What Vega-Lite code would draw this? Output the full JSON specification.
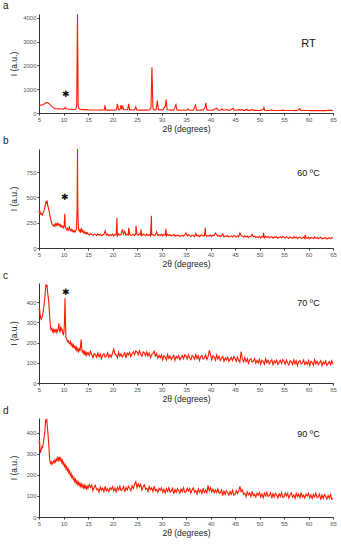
{
"$schema": "https://vega.github.io/schema/vega-lite/v6.json",
"padding": {"left": 3, "top": 1, "right": 4, "bottom": 4},
"spacing": 2,
"config": {
  "font": "Liberation Sans",
  "view": {"stroke": null},
  "axis": {"grid": false, "domainColor": "#333", "tickColor": "#333", "labelColor": "#555", "labelFontSize": 6, "titleFontSize": 8.5, "titleFontWeight": "normal", "titleColor": "#222", "tickSize": 2, "labelPadding": 1, "titlePadding": 2, "labelOverlap": false, "labelFlush": false, "labelBound": false, "format": "d", "tickCount": 20},
  "title": {"fontSize": 10, "fontWeight": "normal", "anchor": "start", "color": "#222", "offset": 1, "frame": "group", "dx": -36}
},
"datasets": {
"a": [{"x":5,"y":340},{"x":5.3,"y":330},{"x":5.6,"y":335},{"x":5.9,"y":360},{"x":6.2,"y":400},{"x":6.5,"y":440},{"x":6.8,"y":430},{"x":7.1,"y":380},{"x":7.4,"y":320},{"x":7.7,"y":260},{"x":8,"y":210},{"x":8.3,"y":185},{"x":8.6,"y":180},{"x":9,"y":175},{"x":9.5,"y":170},{"x":10,"y":165},{"x":10.2,"y":190},{"x":10.35,"y":240},{"x":10.5,"y":175},{"x":11,"y":160},{"x":11.5,"y":155},{"x":12,"y":150},{"x":12.5,"y":160},{"x":12.7,"y":300},{"x":12.85,"y":4150},{"x":13,"y":300},{"x":13.2,"y":170},{"x":13.6,"y":150},{"x":14,"y":140},{"x":14.5,"y":140},{"x":15,"y":130},{"x":15.5,"y":128},{"x":16,"y":125},{"x":16.5,"y":127},{"x":17,"y":124},{"x":17.5,"y":122},{"x":18,"y":125},{"x":18.3,"y":130},{"x":18.45,"y":320},{"x":18.6,"y":130},{"x":19,"y":122},{"x":19.5,"y":120},{"x":20,"y":122},{"x":20.5,"y":125},{"x":20.8,"y":135},{"x":21,"y":380},{"x":21.2,"y":140},{"x":21.5,"y":130},{"x":21.75,"y":330},{"x":21.9,"y":150},{"x":22.05,"y":310},{"x":22.25,"y":140},{"x":22.6,"y":135},{"x":23.1,"y":150},{"x":23.3,"y":380},{"x":23.5,"y":140},{"x":24,"y":125},{"x":24.5,"y":130},{"x":24.75,"y":260},{"x":24.95,"y":130},{"x":25.5,"y":122},{"x":26,"y":120},{"x":26.5,"y":122},{"x":27,"y":120},{"x":27.5,"y":125},{"x":27.85,"y":200},{"x":28.05,"y":1920},{"x":28.25,"y":200},{"x":28.5,"y":125},{"x":28.9,"y":140},{"x":29.15,"y":520},{"x":29.35,"y":140},{"x":29.8,"y":130},{"x":30.3,"y":140},{"x":30.8,"y":300},{"x":30.95,"y":560},{"x":31.15,"y":140},{"x":31.6,"y":125},{"x":32,"y":120},{"x":32.5,"y":125},{"x":32.95,"y":350},{"x":33.15,"y":125},{"x":33.6,"y":120},{"x":34,"y":118},{"x":34.5,"y":120},{"x":35,"y":118},{"x":35.4,"y":170},{"x":35.6,"y":118},{"x":36,"y":118},{"x":36.5,"y":120},{"x":36.95,"y":330},{"x":37.15,"y":120},{"x":37.6,"y":118},{"x":38,"y":120},{"x":38.5,"y":122},{"x":38.9,"y":250},{"x":39.05,"y":430},{"x":39.25,"y":130},{"x":39.6,"y":120},{"x":40,"y":118},{"x":40.5,"y":120},{"x":41,"y":180},{"x":41.25,"y":200},{"x":41.5,"y":120},{"x":42,"y":118},{"x":42.4,"y":165},{"x":42.6,"y":118},{"x":43,"y":125},{"x":43.3,"y":150},{"x":43.5,"y":115},{"x":44,"y":115},{"x":44.6,"y":200},{"x":44.8,"y":120},{"x":45.3,"y":115},{"x":45.8,"y":140},{"x":46,"y":115},{"x":46.4,"y":155},{"x":46.6,"y":112},{"x":47,"y":112},{"x":47.4,"y":160},{"x":47.6,"y":112},{"x":48,"y":110},{"x":48.5,"y":150},{"x":48.7,"y":110},{"x":49.2,"y":112},{"x":49.7,"y":108},{"x":50.2,"y":110},{"x":50.75,"y":150},{"x":50.9,"y":230},{"x":51.05,"y":115},{"x":51.5,"y":108},{"x":52,"y":106},{"x":52.5,"y":130},{"x":52.7,"y":106},{"x":53.2,"y":108},{"x":53.7,"y":104},{"x":54.2,"y":106},{"x":54.9,"y":120},{"x":55.1,"y":104},{"x":55.6,"y":104},{"x":56,"y":106},{"x":56.5,"y":103},{"x":57,"y":105},{"x":57.5,"y":102},{"x":58,"y":140},{"x":58.2,"y":180},{"x":58.4,"y":110},{"x":59,"y":104},{"x":59.5,"y":102},{"x":60,"y":104},{"x":60.5,"y":101},{"x":61,"y":103},{"x":61.5,"y":100},{"x":62,"y":102},{"x":62.5,"y":100},{"x":63,"y":99},{"x":63.5,"y":101},{"x":64,"y":115},{"x":64.2,"y":100},{"x":64.6,"y":120},{"x":64.8,"y":100},{"x":65,"y":95}],
"b": [{"x":5,"y":370},{"x":5.1,"y":350},{"x":5.2,"y":360},{"x":5.35,"y":335},{"x":5.5,"y":340},{"x":5.65,"y":325},{"x":5.8,"y":345},{"x":5.95,"y":360},{"x":6.1,"y":385},{"x":6.25,"y":420},{"x":6.35,"y":440},{"x":6.45,"y":465},{"x":6.55,"y":450},{"x":6.65,"y":470},{"x":6.75,"y":430},{"x":6.9,"y":400},{"x":7.05,"y":370},{"x":7.2,"y":330},{"x":7.35,"y":290},{"x":7.5,"y":265},{"x":7.65,"y":240},{"x":7.8,"y":225},{"x":7.95,"y":218},{"x":8.1,"y":230},{"x":8.25,"y":215},{"x":8.4,"y":240},{"x":8.55,"y":225},{"x":8.7,"y":245},{"x":8.85,"y":228},{"x":9,"y":240},{"x":9.15,"y":220},{"x":9.3,"y":232},{"x":9.45,"y":210},{"x":9.6,"y":222},{"x":9.75,"y":205},{"x":9.9,"y":215},{"x":10.05,"y":200},{"x":10.15,"y":220},{"x":10.25,"y":340},{"x":10.35,"y":230},{"x":10.5,"y":190},{"x":10.65,"y":180},{"x":10.8,"y":195},{"x":10.95,"y":175},{"x":11.1,"y":190},{"x":11.2,"y":215},{"x":11.3,"y":180},{"x":11.45,"y":172},{"x":11.6,"y":185},{"x":11.75,"y":165},{"x":11.9,"y":178},{"x":12.05,"y":160},{"x":12.2,"y":172},{"x":12.35,"y":158},{"x":12.5,"y":170},{"x":12.65,"y":185},{"x":12.78,"y":400},{"x":12.85,"y":980},{"x":12.92,"y":400},{"x":13.05,"y":190},{"x":13.2,"y":165},{"x":13.35,"y":180},{"x":13.5,"y":160},{"x":13.65,"y":195},{"x":13.8,"y":162},{"x":13.95,"y":175},{"x":14.1,"y":150},{"x":14.25,"y":160},{"x":14.4,"y":145},{"x":14.55,"y":155},{"x":14.7,"y":140},{"x":14.85,"y":152},
{"x":15,"y":139},{"x":15.25,"y":129},{"x":15.5,"y":143},{"x":15.75,"y":132},{"x":16,"y":123},{"x":16.25,"y":138},{"x":16.5,"y":134},{"x":16.75,"y":124},{"x":17,"y":140},{"x":17.25,"y":126},{"x":17.5,"y":136},{"x":17.75,"y":120},{"x":18,"y":132},{"x":18.25,"y":135},{"x":18.5,"y":170},{"x":18.75,"y":127},{"x":19,"y":137},{"x":19.25,"y":121},{"x":19.5,"y":131},{"x":19.75,"y":122},{"x":20,"y":136},{"x":20.25,"y":118},{"x":20.5,"y":133},{"x":20.75,"y":129},{"x":20.9,"y":300},{"x":21,"y":122},{"x":21.25,"y":140},{"x":21.5,"y":126},{"x":21.75,"y":136},{"x":22,"y":185},{"x":22.25,"y":136},{"x":22.5,"y":165},{"x":22.75,"y":126},{"x":23,"y":137},{"x":23.25,"y":131},{"x":23.3,"y":200},{"x":23.5,"y":140},{"x":23.75,"y":125},{"x":24,"y":129},{"x":24.25,"y":136},{"x":24.5,"y":125},{"x":24.75,"y":139},{"x":24.8,"y":220},{"x":25,"y":136},{"x":25.25,"y":126},{"x":25.5,"y":140},{"x":25.75,"y":129},{"x":25.8,"y":185},{"x":26,"y":121},{"x":26.25,"y":136},{"x":26.5,"y":132},{"x":26.75,"y":122},{"x":27,"y":138},{"x":27.25,"y":124},{"x":27.5,"y":134},{"x":27.75,"y":118},{"x":27.95,"y":320},{"x":28,"y":132},{"x":28.25,"y":135},{"x":28.5,"y":123},{"x":28.75,"y":127},{"x":29,"y":160},{"x":29.25,"y":123},{"x":29.5,"y":133},{"x":29.75,"y":124},{"x":30,"y":138},{"x":30.25,"y":120},{"x":30.5,"y":135},{"x":30.75,"y":131},{"x":30.9,"y":190},{"x":31,"y":120},{"x":31.25,"y":138},{"x":31.5,"y":124},{"x":31.75,"y":134},{"x":32,"y":119},{"x":32.25,"y":126},{"x":32.5,"y":133},{"x":32.75,"y":116},{"x":33,"y":126},{"x":33.25,"y":120},{"x":33.5,"y":129},{"x":33.75,"y":114},{"x":34,"y":121},{"x":34.25,"y":128},{"x":34.5,"y":117},{"x":34.75,"y":131},{"x":35,"y":150},{"x":35.25,"y":119},{"x":35.5,"y":133},{"x":35.75,"y":122},{"x":36,"y":113},{"x":36.25,"y":128},{"x":36.5,"y":124},{"x":36.75,"y":114},{"x":37,"y":145},{"x":37.25,"y":118},{"x":37.5,"y":128},{"x":37.75,"y":112},{"x":38,"y":126},{"x":38.25,"y":129},{"x":38.5,"y":117},{"x":38.75,"y":121},{"x":38.95,"y":200},{"x":39,"y":131},{"x":39.25,"y":115},{"x":39.5,"y":125},{"x":39.75,"y":116},{"x":40,"y":130},{"x":40.25,"y":112},{"x":40.5,"y":127},{"x":40.75,"y":123},{"x":41,"y":148},{"x":41.25,"y":130},{"x":41.5,"y":116},{"x":41.75,"y":126},{"x":42,"y":112},{"x":42.25,"y":119},{"x":42.5,"y":140},{"x":42.75,"y":109},{"x":43,"y":120},{"x":43.25,"y":114},{"x":43.5,"y":123},{"x":43.75,"y":108},{"x":44,"y":113},{"x":44.25,"y":120},{"x":44.5,"y":109},{"x":44.75,"y":123},{"x":45,"y":118},{"x":45.25,"y":108},{"x":45.5,"y":122},{"x":45.75,"y":111},{"x":46,"y":148},{"x":46.25,"y":122},{"x":46.5,"y":118},{"x":46.75,"y":108},{"x":47,"y":123},{"x":47.25,"y":109},{"x":47.5,"y":119},{"x":47.75,"y":103},{"x":48,"y":114},{"x":48.25,"y":117},{"x":48.5,"y":135},{"x":48.75,"y":109},{"x":49,"y":119},{"x":49.25,"y":103},{"x":49.5,"y":113},{"x":49.75,"y":104},{"x":50,"y":116},{"x":50.25,"y":98},{"x":50.5,"y":113},{"x":50.75,"y":109},{"x":50.8,"y":150},{"x":51,"y":100},{"x":51.25,"y":118},{"x":51.5,"y":104},{"x":51.75,"y":114},{"x":52,"y":100},{"x":52.25,"y":107},{"x":52.5,"y":114},{"x":52.75,"y":97},{"x":53,"y":109},{"x":53.25,"y":103},{"x":53.5,"y":112},{"x":53.75,"y":97},{"x":54,"y":104},{"x":54.25,"y":111},{"x":54.5,"y":100},{"x":54.75,"y":114},{"x":55,"y":108},{"x":55.25,"y":98},{"x":55.5,"y":112},{"x":55.75,"y":101},{"x":56,"y":94},{"x":56.25,"y":109},{"x":56.5,"y":105},{"x":56.75,"y":95},{"x":57,"y":112},{"x":57.25,"y":98},{"x":57.5,"y":108},{"x":57.75,"y":92},{"x":58,"y":105},{"x":58.25,"y":108},{"x":58.5,"y":96},{"x":58.75,"y":100},{"x":59,"y":109},{"x":59.25,"y":93},{"x":59.3,"y":130},{"x":59.5,"y":103},{"x":59.75,"y":94},{"x":60,"y":108},{"x":60.25,"y":90},{"x":60.5,"y":105},{"x":60.75,"y":101},{"x":61,"y":91},{"x":61.25,"y":109},{"x":61.5,"y":95},{"x":61.75,"y":105},{"x":62,"y":92},{"x":62.25,"y":99},{"x":62.5,"y":106},{"x":62.75,"y":89},{"x":63,"y":101},{"x":63.25,"y":95},{"x":63.5,"y":104},{"x":63.75,"y":89},{"x":64,"y":95},{"x":64.25,"y":102},{"x":64.5,"y":91},{"x":64.75,"y":105},{"x":65,"y":95}],
"c": [{"x":5,"y":360},{"x":5.1,"y":370},{"x":5.2,"y":345},{"x":5.35,"y":320},{"x":5.5,"y":315},{"x":5.65,"y":330},{"x":5.8,"y":345},{"x":5.95,"y":370},{"x":6.1,"y":400},{"x":6.25,"y":440},{"x":6.35,"y":470},{"x":6.45,"y":490},{"x":6.55,"y":475},{"x":6.65,"y":485},{"x":6.75,"y":450},{"x":6.9,"y":420},{"x":7,"y":400},{"x":7.1,"y":360},{"x":7.2,"y":320},{"x":7.3,"y":290},{"x":7.45,"y":265},{"x":7.6,"y":270},{"x":7.75,"y":255},{"x":7.9,"y":265},{"x":8.05,"y":250},{"x":8.2,"y":262},{"x":8.35,"y":255},{"x":8.5,"y":268},{"x":8.65,"y":250},{"x":8.8,"y":260},{"x":8.95,"y":275},{"x":9.05,"y":295},{"x":9.15,"y":265},{"x":9.3,"y":250},{"x":9.45,"y":280},{"x":9.55,"y":260},{"x":9.7,"y":270},{"x":9.85,"y":245},{"x":10,"y":240},{"x":10.1,"y":255},{"x":10.2,"y":300},{"x":10.3,"y":420},{"x":10.4,"y":300},{"x":10.5,"y":225},{"x":10.65,"y":220},{"x":10.8,"y":205},{"x":10.95,"y":210},{"x":11.1,"y":200},{"x":11.25,"y":195},{"x":11.4,"y":205},{"x":11.55,"y":188},{"x":11.7,"y":195},{"x":11.85,"y":180},{"x":12,"y":190},{"x":12.15,"y":175},{"x":12.3,"y":182},{"x":12.45,"y":168},{"x":12.6,"y":178},{"x":12.75,"y":160},{"x":12.9,"y":170},{"x":13.05,"y":155},{"x":13.2,"y":168},{"x":13.35,"y":158},{"x":13.5,"y":190},{"x":13.6,"y":215},{"x":13.7,"y":175},{"x":13.85,"y":150},{"x":14,"y":162},{"x":14.15,"y":145},{"x":14.3,"y":155},{"x":14.45,"y":140},{"x":14.6,"y":152},{"x":14.75,"y":138},{"x":14.9,"y":148},
{"x":15,"y":151},{"x":15.25,"y":136},{"x":15.5,"y":157},{"x":15.75,"y":141},{"x":16,"y":125},{"x":16.25,"y":146},{"x":16.5,"y":141},{"x":16.75,"y":127},{"x":17,"y":149},{"x":17.25,"y":129},{"x":17.5,"y":144},{"x":17.75,"y":120},{"x":18,"y":140},{"x":18.25,"y":145},{"x":18.5,"y":128},{"x":18.75,"y":133},{"x":19,"y":149},{"x":19.25,"y":126},{"x":19.5,"y":140},{"x":19.75,"y":128},{"x":20,"y":148},{"x":20.25,"y":168},{"x":20.5,"y":144},{"x":20.75,"y":138},{"x":21,"y":125},{"x":21.25,"y":152},{"x":21.5,"y":132},{"x":21.75,"y":145},{"x":22,"y":129},{"x":22.25,"y":140},{"x":22.5,"y":150},{"x":22.75,"y":125},{"x":23,"y":148},{"x":23.25,"y":139},{"x":23.5,"y":152},{"x":23.75,"y":131},{"x":24,"y":145},{"x":24.25,"y":155},{"x":24.5,"y":139},{"x":24.75,"y":159},{"x":25,"y":154},{"x":25.25,"y":139},{"x":25.5,"y":160},{"x":25.75,"y":144},{"x":26,"y":133},{"x":26.25,"y":154},{"x":26.5,"y":149},{"x":26.75,"y":135},{"x":27,"y":154},{"x":27.25,"y":134},{"x":27.5,"y":149},{"x":27.75,"y":125},{"x":28,"y":141},{"x":28.25,"y":146},{"x":28.5,"y":158},{"x":28.75,"y":134},{"x":29,"y":146},{"x":29.25,"y":123},{"x":29.5,"y":137},{"x":29.75,"y":125},{"x":30,"y":139},{"x":30.25,"y":114},{"x":30.5,"y":135},{"x":30.75,"y":129},{"x":31,"y":114},{"x":31.25,"y":141},{"x":31.5,"y":121},{"x":31.75,"y":134},{"x":32,"y":116},{"x":32.25,"y":127},{"x":32.5,"y":137},{"x":32.75,"y":112},{"x":33,"y":132},{"x":33.25,"y":123},{"x":33.5,"y":136},{"x":33.75,"y":115},{"x":34,"y":126},{"x":34.25,"y":136},{"x":34.5,"y":120},{"x":34.75,"y":140},{"x":35,"y":134},{"x":35.25,"y":119},{"x":35.5,"y":140},{"x":35.75,"y":124},{"x":36,"y":115},{"x":36.25,"y":136},{"x":36.5,"y":131},{"x":36.75,"y":117},{"x":37,"y":141},{"x":37.25,"y":121},{"x":37.5,"y":136},{"x":37.75,"y":112},{"x":38,"y":131},{"x":38.25,"y":136},{"x":38.5,"y":119},{"x":38.75,"y":124},{"x":39,"y":139},{"x":39.25,"y":116},{"x":39.5,"y":130},{"x":39.75,"y":162},{"x":40,"y":139},{"x":40.25,"y":114},{"x":40.5,"y":135},{"x":40.75,"y":129},{"x":41,"y":112},{"x":41.25,"y":139},{"x":41.5,"y":119},{"x":41.75,"y":132},{"x":42,"y":111},{"x":42.25,"y":122},{"x":42.5,"y":132},{"x":42.75,"y":107},{"x":43,"y":124},{"x":43.25,"y":115},{"x":43.5,"y":128},{"x":43.75,"y":107},{"x":44,"y":117},{"x":44.25,"y":127},{"x":44.5,"y":111},{"x":44.75,"y":131},{"x":45,"y":122},{"x":45.25,"y":107},{"x":45.5,"y":128},{"x":45.75,"y":112},{"x":46,"y":103},{"x":46.25,"y":156},{"x":46.5,"y":119},{"x":46.75,"y":105},{"x":47,"y":126},{"x":47.25,"y":106},{"x":47.5,"y":121},{"x":47.75,"y":97},{"x":48,"y":115},{"x":48.25,"y":120},{"x":48.5,"y":103},{"x":48.75,"y":108},{"x":49,"y":121},{"x":49.25,"y":98},{"x":49.5,"y":112},{"x":49.75,"y":100},{"x":50,"y":117},{"x":50.25,"y":92},{"x":50.5,"y":113},{"x":50.75,"y":107},{"x":51,"y":93},{"x":51.25,"y":120},{"x":51.5,"y":100},{"x":51.75,"y":113},{"x":52,"y":95},{"x":52.25,"y":106},{"x":52.5,"y":116},{"x":52.75,"y":91},{"x":53,"y":109},{"x":53.25,"y":100},{"x":53.5,"y":113},{"x":53.75,"y":92},{"x":54,"y":102},{"x":54.25,"y":112},{"x":54.5,"y":96},{"x":54.75,"y":116},{"x":55,"y":108},{"x":55.25,"y":93},{"x":55.5,"y":114},{"x":55.75,"y":98},{"x":56,"y":89},{"x":56.25,"y":110},{"x":56.5,"y":105},{"x":56.75,"y":91},{"x":57,"y":115},{"x":57.25,"y":95},{"x":57.5,"y":110},{"x":57.75,"y":86},{"x":58,"y":106},{"x":58.25,"y":111},{"x":58.5,"y":94},{"x":58.75,"y":99},{"x":59,"y":114},{"x":59.25,"y":91},{"x":59.5,"y":105},{"x":59.75,"y":93},{"x":60,"y":111},{"x":60.25,"y":86},{"x":60.5,"y":107},{"x":60.75,"y":101},{"x":61,"y":88},{"x":61.25,"y":115},{"x":61.5,"y":95},{"x":61.75,"y":108},{"x":62,"y":90},{"x":62.25,"y":101},{"x":62.5,"y":111},{"x":62.75,"y":86},{"x":63,"y":104},{"x":63.25,"y":95},{"x":63.5,"y":108},{"x":63.75,"y":87},{"x":64,"y":96},{"x":64.25,"y":106},{"x":64.5,"y":90},{"x":64.75,"y":110},{"x":65,"y":92}],
"d": [{"x":5,"y":350},{"x":5.1,"y":365},{"x":5.2,"y":320},{"x":5.3,"y":305},{"x":5.45,"y":320},{"x":5.6,"y":335},{"x":5.75,"y":330},{"x":5.9,"y":355},{"x":6.05,"y":380},{"x":6.2,"y":410},{"x":6.3,"y":440},{"x":6.4,"y":465},{"x":6.5,"y":455},{"x":6.6,"y":460},{"x":6.7,"y":430},{"x":6.85,"y":390},{"x":7,"y":340},{"x":7.1,"y":300},{"x":7.2,"y":270},{"x":7.35,"y":255},{"x":7.5,"y":262},{"x":7.65,"y":250},{"x":7.8,"y":258},{"x":7.95,"y":265},{"x":8.1,"y":258},{"x":8.25,"y":270},{"x":8.4,"y":262},{"x":8.55,"y":275},{"x":8.7,"y":268},{"x":8.85,"y":282},{"x":9,"y":270},{"x":9.15,"y":285},{"x":9.3,"y":268},{"x":9.45,"y":278},{"x":9.6,"y":260},{"x":9.75,"y":270},{"x":9.9,"y":250},{"x":10.05,"y":258},{"x":10.2,"y":240},{"x":10.35,"y":248},{"x":10.5,"y":228},{"x":10.65,"y":238},{"x":10.8,"y":220},{"x":10.95,"y":228},{"x":11.1,"y":208},{"x":11.25,"y":218},{"x":11.4,"y":198},{"x":11.55,"y":206},{"x":11.7,"y":188},{"x":11.85,"y":195},{"x":12,"y":178},{"x":12.15,"y":186},{"x":12.3,"y":168},{"x":12.45,"y":178},{"x":12.6,"y":160},{"x":12.75,"y":170},{"x":12.9,"y":155},{"x":13.05,"y":165},{"x":13.2,"y":150},{"x":13.35,"y":160},{"x":13.5,"y":145},{"x":13.65,"y":156},{"x":13.8,"y":142},{"x":13.95,"y":152},{"x":14.1,"y":138},{"x":14.25,"y":150},{"x":14.4,"y":135},{"x":14.55,"y":148},{"x":14.7,"y":134},{"x":14.85,"y":146},
{"x":15,"y":136},{"x":15.25,"y":154},{"x":15.5,"y":140},{"x":15.75,"y":152},{"x":16,"y":125},{"x":16.25,"y":141},{"x":16.5,"y":150},{"x":16.75,"y":129},{"x":17,"y":134},{"x":17.25,"y":118},{"x":17.5,"y":142},{"x":17.75,"y":127},{"x":18,"y":137},{"x":18.25,"y":120},{"x":18.5,"y":145},{"x":18.75,"y":124},{"x":19,"y":134},{"x":19.25,"y":120},{"x":19.5,"y":139},{"x":19.75,"y":130},{"x":20,"y":144},{"x":20.25,"y":123},{"x":20.5,"y":137},{"x":20.75,"y":119},{"x":21,"y":141},{"x":21.25,"y":128},{"x":21.5,"y":146},{"x":21.75,"y":125},{"x":22,"y":132},{"x":22.25,"y":145},{"x":22.5,"y":119},{"x":22.75,"y":140},{"x":23,"y":128},{"x":23.25,"y":146},{"x":23.5,"y":137},{"x":23.75,"y":124},{"x":24,"y":149},{"x":24.25,"y":136},{"x":24.5,"y":155},{"x":24.75,"y":168},{"x":25,"y":139},{"x":25.25,"y":157},{"x":25.5,"y":143},{"x":25.75,"y":155},{"x":26,"y":128},{"x":26.25,"y":144},{"x":26.5,"y":153},{"x":26.75,"y":132},{"x":27,"y":137},{"x":27.25,"y":121},{"x":27.5,"y":145},{"x":27.75,"y":130},{"x":28,"y":138},{"x":28.25,"y":121},{"x":28.5,"y":146},{"x":28.75,"y":125},{"x":29,"y":131},{"x":29.25,"y":117},{"x":29.5,"y":136},{"x":29.75,"y":127},{"x":30,"y":138},{"x":30.25,"y":117},{"x":30.5,"y":131},{"x":30.75,"y":113},{"x":31,"y":134},{"x":31.25,"y":121},{"x":31.5,"y":139},{"x":31.75,"y":118},{"x":32,"y":123},{"x":32.25,"y":136},{"x":32.5,"y":110},{"x":32.75,"y":131},{"x":33,"y":117},{"x":33.25,"y":135},{"x":33.5,"y":126},{"x":33.75,"y":113},{"x":34,"y":133},{"x":34.25,"y":120},{"x":34.5,"y":139},{"x":34.75,"y":116},{"x":35,"y":119},{"x":35.25,"y":137},{"x":35.5,"y":123},{"x":35.75,"y":135},{"x":36,"y":113},{"x":36.25,"y":129},{"x":36.5,"y":138},{"x":36.75,"y":117},{"x":37,"y":125},{"x":37.25,"y":109},{"x":37.5,"y":133},{"x":37.75,"y":118},{"x":38,"y":129},{"x":38.25,"y":112},{"x":38.5,"y":137},{"x":38.75,"y":116},{"x":39,"y":128},{"x":39.25,"y":114},{"x":39.5,"y":150},{"x":39.75,"y":124},{"x":40,"y":140},{"x":40.25,"y":119},{"x":40.5,"y":133},{"x":40.75,"y":115},{"x":41,"y":129},{"x":41.25,"y":116},{"x":41.5,"y":134},{"x":41.75,"y":113},{"x":42,"y":115},{"x":42.25,"y":128},{"x":42.5,"y":102},{"x":42.75,"y":123},{"x":43,"y":107},{"x":43.25,"y":125},{"x":43.5,"y":116},{"x":43.75,"y":103},{"x":44,"y":121},{"x":44.25,"y":108},{"x":44.5,"y":127},{"x":44.75,"y":104},{"x":45,"y":107},{"x":45.25,"y":125},{"x":45.5,"y":111},{"x":45.75,"y":123},{"x":46,"y":145},{"x":46.25,"y":120},{"x":46.5,"y":129},{"x":46.75,"y":108},{"x":47,"y":112},{"x":47.25,"y":96},{"x":47.5,"y":120},{"x":47.75,"y":105},{"x":48,"y":114},{"x":48.25,"y":97},{"x":48.5,"y":122},{"x":48.75,"y":101},{"x":49,"y":108},{"x":49.25,"y":94},{"x":49.5,"y":113},{"x":49.75,"y":104},{"x":50,"y":116},{"x":50.25,"y":95},{"x":50.5,"y":109},{"x":50.75,"y":91},{"x":51,"y":113},{"x":51.25,"y":100},{"x":51.5,"y":118},{"x":51.75,"y":97},{"x":52,"y":102},{"x":52.25,"y":115},{"x":52.5,"y":89},{"x":52.75,"y":110},{"x":53,"y":95},{"x":53.25,"y":113},{"x":53.5,"y":104},{"x":53.75,"y":91},{"x":54,"y":110},{"x":54.25,"y":97},{"x":54.5,"y":116},{"x":54.75,"y":93},{"x":55,"y":96},{"x":55.25,"y":114},{"x":55.5,"y":100},{"x":55.75,"y":112},{"x":56,"y":90},{"x":56.25,"y":106},{"x":56.5,"y":115},{"x":56.75,"y":94},{"x":57,"y":104},{"x":57.25,"y":88},{"x":57.5,"y":112},{"x":57.75,"y":97},{"x":58,"y":108},{"x":58.25,"y":91},{"x":58.5,"y":116},{"x":58.75,"y":95},{"x":59,"y":104},{"x":59.25,"y":90},{"x":59.5,"y":109},{"x":59.75,"y":100},{"x":60,"y":112},{"x":60.25,"y":91},{"x":60.5,"y":105},{"x":60.75,"y":87},{"x":61,"y":108},{"x":61.25,"y":95},{"x":61.5,"y":113},{"x":61.75,"y":92},{"x":62,"y":96},{"x":62.25,"y":109},{"x":62.5,"y":83},{"x":62.75,"y":104},{"x":63,"y":89},{"x":63.25,"y":107},{"x":63.5,"y":98},{"x":63.75,"y":85},{"x":64,"y":102},{"x":64.25,"y":89},{"x":64.5,"y":108},{"x":64.75,"y":85},{"x":65,"y":88}]
},
"vconcat": [
{
  "width": 294, "height": 99,
  "title": {"text": "a"},
  "layer": [
    {"data": {"name": "a"}, "mark": {"type": "line", "color": "#ff1a00", "strokeWidth": 1.1},
     "encoding": {
       "x": {"field": "x", "type": "quantitative", "scale": {"domain": [5, 65], "nice": false}, "axis": {"values": [5,10,15,20,25,30,35,40,45,50,55,60,65], "tickCount": 20, "title": "2θ (degrees)"}},
       "y": {"field": "y", "type": "quantitative", "scale": {"domain": [0, 4160], "nice": false}, "axis": {"values": [0,1000,2000,3000,4000], "tickCount": 20, "title": "I (a.u.)", "titleX": -21}}}},
    {"data": {"values": [{"x": 60, "y": 2900, "t": "RT", "s": 11}, {"x": 10.45, "y": 810, "t": "✱", "s": 9}]},
     "mark": {"type": "text", "color": "#111"},
     "encoding": {"x": {"field": "x", "type": "quantitative"}, "y": {"field": "y", "type": "quantitative"}, "text": {"field": "t"}, "size": {"field": "s", "type": "quantitative", "scale": null}}}
  ]
},
{
  "width": 294, "height": 99,
  "title": {"text": "b"},
  "layer": [
    {"data": {"name": "b"}, "mark": {"type": "line", "color": "#ff1a00", "strokeWidth": 1.1},
     "encoding": {
       "x": {"field": "x", "type": "quantitative", "scale": {"domain": [5, 65], "nice": false}, "axis": {"values": [5,10,15,20,25,30,35,40,45,50,55,60,65], "tickCount": 20, "title": "2θ (degrees)"}},
       "y": {"field": "y", "type": "quantitative", "scale": {"domain": [0, 980], "nice": false}, "axis": {"values": [0,250,500,750], "tickCount": 20, "title": "I (a.u.)", "titleX": -21}}}},
    {"data": {"values": [{"x": 60, "y": 740, "t": "60 ºC", "s": 9}, {"x": 10.4, "y": 503, "t": "✱", "s": 9}]},
     "mark": {"type": "text", "color": "#111"},
     "encoding": {"x": {"field": "x", "type": "quantitative"}, "y": {"field": "y", "type": "quantitative"}, "text": {"field": "t"}, "size": {"field": "s", "type": "quantitative", "scale": null}}}
  ]
},
{
  "width": 294, "height": 100,
  "title": {"text": "c"},
  "layer": [
    {"data": {"name": "c"}, "mark": {"type": "line", "color": "#ff1a00", "strokeWidth": 1.1},
     "encoding": {
       "x": {"field": "x", "type": "quantitative", "scale": {"domain": [5, 65], "nice": false}, "axis": {"values": [5,10,15,20,25,30,35,40,45,50,55,60,65], "tickCount": 20, "title": "2θ (degrees)"}},
       "y": {"field": "y", "type": "quantitative", "scale": {"domain": [0, 495], "nice": false}, "axis": {"values": [0,100,200,300,400], "tickCount": 20, "title": "I (a.u.)", "titleX": -21}}}},
    {"data": {"values": [{"x": 60, "y": 395, "t": "70 ºC", "s": 9}, {"x": 10.45, "y": 449, "t": "✱", "s": 9}]},
     "mark": {"type": "text", "color": "#111"},
     "encoding": {"x": {"field": "x", "type": "quantitative"}, "y": {"field": "y", "type": "quantitative"}, "text": {"field": "t"}, "size": {"field": "s", "type": "quantitative", "scale": null}}}
  ]
},
{
  "width": 294, "height": 99,
  "title": {"text": "d"},
  "layer": [
    {"data": {"name": "d"}, "mark": {"type": "line", "color": "#ff1a00", "strokeWidth": 1.1},
     "encoding": {
       "x": {"field": "x", "type": "quantitative", "scale": {"domain": [5, 65], "nice": false}, "axis": {"values": [5,10,15,20,25,30,35,40,45,50,55,60,65], "tickCount": 20, "title": "2θ (degrees)"}},
       "y": {"field": "y", "type": "quantitative", "scale": {"domain": [0, 470], "nice": false}, "axis": {"values": [0,100,200,300,400], "tickCount": 20, "title": "I (a.u.)", "titleX": -21}}}},
    {"data": {"values": [{"x": 60, "y": 395, "t": "90 ºC", "s": 9}]},
     "mark": {"type": "text", "color": "#111"},
     "encoding": {"x": {"field": "x", "type": "quantitative"}, "y": {"field": "y", "type": "quantitative"}, "text": {"field": "t"}, "size": {"field": "s", "type": "quantitative", "scale": null}}}
  ]
}
]
}
